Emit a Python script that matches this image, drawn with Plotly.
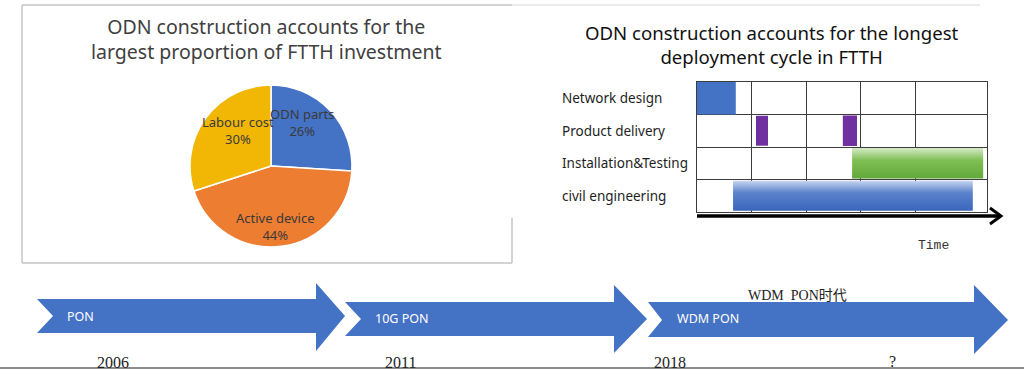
import plotly.graph_objects as go

# ---------------- data ----------------
pie_labels = ["ODN parts", "Active device", "Labour cost"]
pie_values = [26, 44, 30]
pie_colors = ["#4472C4", "#ED7D31", "#F2B705"]

tasks = ["Network design", "Product delivery", "Installation&Testing", "civil engineering"]
bar_task = [0, 1, 1, 2, 3]
bar_start = [0.0, 1.08, 2.67, 2.84, 0.66]
bar_end = [0.71, 1.30, 2.93, 5.24, 5.05]

eras = ["PON", "10G PON", "WDM PON"]
years = ["2006", "2011", "2018", "?"]
era_note = "WDM  PON时代"

left_title = ["ODN construction accounts for the", "largest proportion of FTTH investment"]
right_title = ["ODN construction accounts for the longest", "deployment cycle in FTTH"]
time_label = "Time"

# ---------------- helpers (pixel -> paper) ----------------
W, H = 1024, 381
def px(x):
    return x / W
def py(y):
    return 1 - y / H

fig = go.Figure()

# ---------------- pie ----------------
fig.add_trace(go.Pie(
    labels=pie_labels, values=pie_values, sort=False, direction="clockwise", rotation=0,
    marker=dict(colors=pie_colors, line=dict(color="white", width=1.5)),
    textinfo="none", hoverinfo="label+percent",
    domain=dict(x=[px(190), px(352)], y=[py(247), py(85)]),
    showlegend=False,
))
pie_label_pos = {"ODN parts": (302, 122), "Active device": (275, 226), "Labour cost": (238, 130)}
total = sum(pie_values)
for lab, val in zip(pie_labels, pie_values):
    x, y = pie_label_pos[lab]
    fig.add_annotation(x=px(x), y=py(y), xref="paper", yref="paper",
                       text=f"{lab}<br>{round(100*val/total)}%", showarrow=False,
                       font=dict(family="Noto Sans", size=13, color="#3a3a3a"),
                       xanchor="center", yanchor="middle", align="center")

# ---------------- gantt ----------------
n_rows = len(tasks)
def row_y(i):
    return n_rows - 1 - i   # first task at the top

bar_style = [
    dict(h=0.5, solid="#4472C4"),
    dict(h=0.46, solid="#7030A0"),
    dict(h=0.47, solid="#7030A0"),
    dict(h=0.47, grad=[[0, "#62a83a"], [0.6, "#80bf55"], [1, "#d6eac8"]]),
    dict(h=0.46, grad=[[0, "#3a66bb"], [0.6, "#5a82cc"], [1, "#c6d5f0"]]),
]
for t, s, e, st in zip(bar_task, bar_start, bar_end, bar_style):
    h = st["h"]
    yc = row_y(t)
    xs = [s, e, e, s, s]
    ys = [yc - h, yc - h, yc + h, yc + h, yc - h]
    kw = dict(x=xs, y=ys, mode="lines", fill="toself",
              line=dict(width=0, color="rgba(0,0,0,0)"),
              hoverinfo="text", text=tasks[t], showlegend=False)
    if "solid" in st:
        kw["fillcolor"] = st["solid"]
    else:
        kw["fillgradient"] = dict(type="vertical", colorscale=st["grad"])
    fig.add_trace(go.Scatter(**kw))

for i, name in enumerate(tasks):
    fig.add_annotation(x=px(560), y=row_y(i), xref="paper", yref="y", text=name,
                       showarrow=False, xanchor="left", yanchor="middle",
                       font=dict(family="Noto Sans", size=13.5, color="#1e1e1e"))

grid_col = "#3c3c3c"
fig.update_xaxes(domain=[px(697), px(987)], range=[0, 5.31], tickvals=[1, 2, 3, 4],
                 showgrid=True, gridcolor=grid_col, gridwidth=1, showticklabels=False,
                 zeroline=False, showline=True, mirror=True, linecolor=grid_col, linewidth=1,
                 ticks="", fixedrange=True)
fig.update_yaxes(domain=[py(212), py(82)], range=[-0.5, 3.5], tickvals=[0.5, 1.5, 2.5],
                 showgrid=True, gridcolor=grid_col, gridwidth=1, showticklabels=False,
                 zeroline=False, showline=True, mirror=True, linecolor=grid_col, linewidth=1,
                 ticks="", fixedrange=True)

# time arrow
shapes = []
shapes.append(dict(type="line", xref="paper", yref="paper", x0=px(697), x1=px(1000),
                   y0=py(216), y1=py(216), line=dict(color="black", width=3.5)))
shapes.append(dict(type="path", xref="paper", yref="paper",
                   path=f"M {px(990)} {py(208)} L {px(1001)} {py(216)} L {px(990)} {py(224)}",
                   line=dict(color="black", width=3)))
fig.add_annotation(x=px(933), y=py(245), xref="paper", yref="paper", text=time_label,
                   showarrow=False, xanchor="center", yanchor="middle",
                   font=dict(family="Liberation Mono", size=13, color="#333"))

# ---------------- titles ----------------
fig.add_annotation(x=px(266), y=py(39.5), xref="paper", yref="paper",
                   text="<br>".join(left_title), showarrow=False,
                   xanchor="center", yanchor="middle", align="center",
                   font=dict(family="Noto Sans", size=19.5, color="#404040"))
fig.add_annotation(x=px(772), y=py(44.5), xref="paper", yref="paper",
                   text="<br>".join(right_title), showarrow=False,
                   xanchor="center", yanchor="middle", align="center",
                   font=dict(family="Noto Sans", size=18.6, color="#111"))

# ---------------- frames ----------------
box_col = "#c4c4c4"
shapes += [
    dict(type="line", xref="paper", yref="paper", x0=px(22), x1=px(22), y0=py(5), y1=py(263), line=dict(color=box_col, width=1.5)),
    dict(type="line", xref="paper", yref="paper", x0=px(22), x1=px(512), y0=py(263), y1=py(263), line=dict(color=box_col, width=1.5)),
    dict(type="line", xref="paper", yref="paper", x0=px(512), x1=px(512), y0=py(218), y1=py(263), line=dict(color=box_col, width=1.5)),
    dict(type="line", xref="paper", yref="paper", x0=px(22), x1=px(512), y0=py(5), y1=py(5), line=dict(color=box_col, width=1.5)),
    dict(type="line", xref="paper", yref="paper", x0=px(512), x1=px(980), y0=py(5), y1=py(5), line=dict(color="#e4e4e4", width=1.5)),
    dict(type="line", xref="paper", yref="paper", x0=0, x1=1, y0=py(368), y1=py(368), line=dict(color="#666", width=1.5)),
]

# ---------------- timeline arrows ----------------
# geometry: (left, notch, body_top, body_bot, head_base, head_top, head_bot, tip, mid)
arrow_geom = [
    (37, 53, 299, 333, 316, 283, 351, 345, 316),
    (345, 361, 302, 336, 614, 285, 353, 647, 319),
    (648, 662, 302, 337, 974, 285, 354, 1008, 320),
]
for (l, n, bt, bb, hb, ht, hbot, tip, mid) in arrow_geom:
    pts = [(l, bt), (hb, bt), (hb, ht), (tip, mid), (hb, hbot), (hb, bb), (l, bb), (n, mid)]
    path = "M " + " L ".join(f"{px(a)} {py(b)}" for a, b in pts) + " Z"
    shapes.append(dict(type="path", xref="paper", yref="paper", path=path,
                       fillcolor="#4472C4", line=dict(width=0), layer="above"))

era_pos = [(65, 316), (373, 318), (675, 318)]
for txt, (x, y) in zip(eras, era_pos):
    fig.add_annotation(x=px(x), y=py(y), xref="paper", yref="paper", text=txt,
                       showarrow=False, xanchor="left", yanchor="middle",
                       font=dict(family="Noto Sans", size=12.5, color="white"))

year_pos = [(113, 362), (400, 362), (670, 362), (892, 361)]
for txt, (x, y) in zip(years, year_pos):
    fig.add_annotation(x=px(x), y=py(y), xref="paper", yref="paper", text=txt,
                       showarrow=False, xanchor="center", yanchor="middle",
                       font=dict(family="Liberation Serif", size=16, color="#222"))

fig.add_annotation(x=px(797), y=py(295), xref="paper", yref="paper", text=era_note,
                   showarrow=False, xanchor="center", yanchor="middle",
                   font=dict(family="Liberation Serif, Noto Sans CJK SC", size=14, color="#222"))

fig.update_layout(width=W, height=H, margin=dict(l=0, r=0, t=0, b=0),
                  paper_bgcolor="white", plot_bgcolor="white", shapes=shapes,
                  showlegend=False)

fig.write_html("out.html", config={"displayModeBar": False},
               post_script="document.body.style.margin='0';document.body.style.overflow='hidden';")
